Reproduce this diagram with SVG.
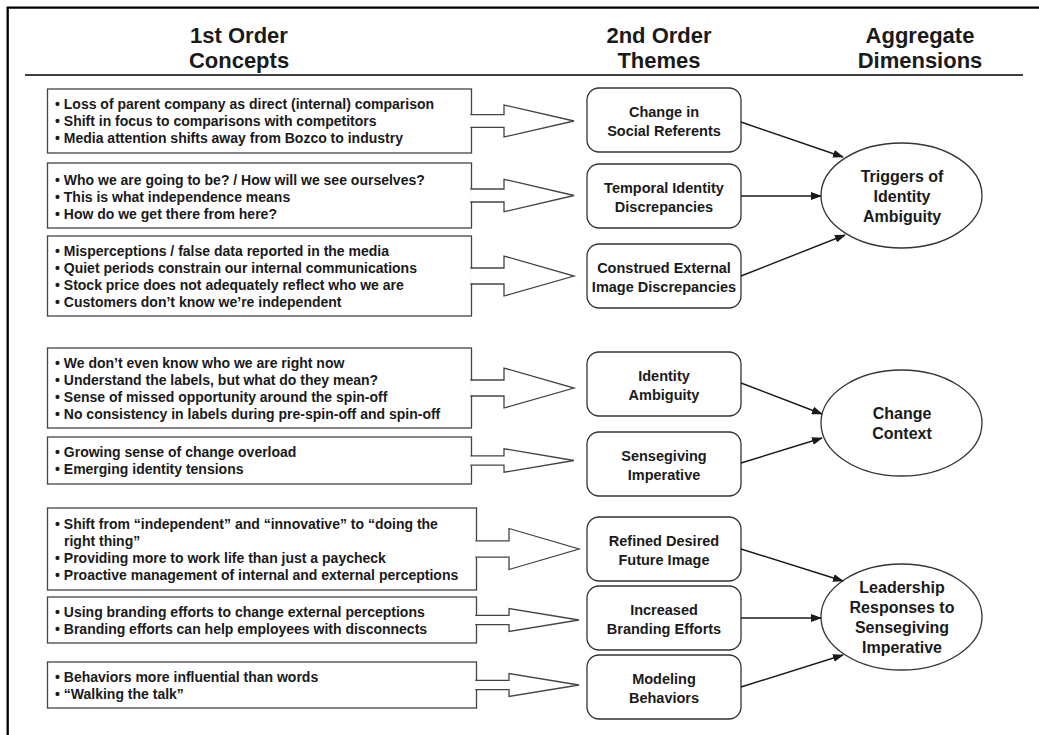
<svg xmlns="http://www.w3.org/2000/svg" width="1039" height="735" viewBox="0 0 1039 735">
<defs>
<style>
text{font-family:"Liberation Sans",Arial,sans-serif;font-weight:bold;fill:#1a1a1a}
.hd{font-size:22px;text-anchor:middle}
.lt{font-size:14px}
.th{font-size:14.5px;text-anchor:middle}
.ag{font-size:16px;text-anchor:middle}
.box{fill:#fff;stroke:#444;stroke-width:1.3}
.blk{fill:#fff;stroke:#444;stroke-width:1.3;stroke-linejoin:miter}
.rr{fill:#fff;stroke:#333;stroke-width:1.3}
.el{fill:#fff;stroke:#333;stroke-width:1.3}
.cn{fill:none;stroke:#1a1a1a;stroke-width:1.4;marker-end:url(#ah)}
</style>
<marker id="ah" markerUnits="userSpaceOnUse" markerWidth="11" markerHeight="8" refX="10" refY="4" orient="auto">
<path d="M0,0 L11,4 L0,8 z" fill="#1a1a1a"/>
</marker>
</defs>
<rect width="1039" height="735" fill="#fff"/>
<g id="frame">
<path d="M7.7,735 V7.7 H1039" fill="none" stroke="#000" stroke-width="2.3"/>
<line x1="25" y1="75" x2="1023" y2="75" stroke="#000" stroke-width="1.6"/>
</g>
<g id="headers">
<text class="hd" x="239" y="43">1st Order</text>
<text class="hd" x="239" y="68">Concepts</text>
<text class="hd" x="659" y="43">2nd Order</text>
<text class="hd" x="659" y="68">Themes</text>
<text class="hd" x="920" y="43">Aggregate</text>
<text class="hd" x="920" y="68">Dimensions</text>
</g>
<g id="concepts1">
<rect class="box" x="47.5" y="89" width="424" height="64"/>
<path class="blk" d="M470.3,114.6 H504 V105 L574,121 L504,137 V127.4 H470.3"/>
<text class="lt" x="55" y="109">• Loss of parent company as direct (internal) comparison</text>
<text class="lt" x="55" y="126">• Shift in focus to comparisons with competitors</text>
<text class="lt" x="55" y="143">• Media attention shifts away from Bozco to industry</text>
</g>
<g id="concepts2">
<rect class="box" x="47.5" y="163" width="424" height="65"/>
<path class="blk" d="M470.3,189 H504 V179.25 L574,195.5 L504,211.75 V202 H470.3"/>
<text class="lt" x="55" y="184.5">• Who we are going to be? / How will we see ourselves?</text>
<text class="lt" x="55" y="201.5">• This is what independence means</text>
<text class="lt" x="55" y="218.5">• How do we get there from here?</text>
</g>
<g id="concepts3">
<rect class="box" x="47.5" y="236" width="424" height="80"/>
<path class="blk" d="M470.3,268 H504 V256 L574,276 L504,296 V284 H470.3"/>
<text class="lt" x="55" y="255.5">• Misperceptions / false data reported in the media</text>
<text class="lt" x="55" y="272.5">• Quiet periods constrain our internal communications</text>
<text class="lt" x="55" y="289.5">• Stock price does not adequately reflect who we are</text>
<text class="lt" x="55" y="306.5">• Customers don’t know we’re independent</text>
</g>
<g id="concepts4">
<rect class="box" x="47.5" y="348" width="424" height="80"/>
<path class="blk" d="M470.3,380 H504 V368 L574,388 L504,408 V396 H470.3"/>
<text class="lt" x="55" y="367.5">• We don’t even know who we are right now</text>
<text class="lt" x="55" y="384.5">• Understand the labels, but what do they mean?</text>
<text class="lt" x="55" y="401.5">• Sense of missed opportunity around the spin-off</text>
<text class="lt" x="55" y="418.5">• No consistency in labels during pre-spin-off and spin-off</text>
</g>
<g id="concepts5">
<rect class="box" x="47.5" y="437" width="424" height="47"/>
<path class="blk" d="M470.3,455.8 H504 V448.75 L574,460.5 L504,472.25 V465.2 H470.3"/>
<text class="lt" x="55" y="457">• Growing sense of change overload</text>
<text class="lt" x="55" y="474">• Emerging identity tensions</text>
</g>
<g id="concepts6">
<rect class="box" x="47.5" y="508" width="429" height="82"/>
<path class="blk" d="M475.3,540.8 H509 V528.5 L579,549 L509,569.5 V557.2 H475.3"/>
<text class="lt" x="55" y="528.5">• Shift from “independent” and “innovative” to “doing the</text>
<text class="lt" x="64" y="545.5">right thing”</text>
<text class="lt" x="55" y="562.5">• Providing more to work life than just a paycheck</text>
<text class="lt" x="55" y="579.5">• Proactive management of internal and external perceptions</text>
</g>
<g id="concepts7">
<rect class="box" x="47.5" y="597" width="429" height="46"/>
<path class="blk" d="M475.3,615.4 H509 V608.5 L579,620 L509,631.5 V624.6 H475.3"/>
<text class="lt" x="55" y="616.5">• Using branding efforts to change external perceptions</text>
<text class="lt" x="55" y="633.5">• Branding efforts can help employees with disconnects</text>
</g>
<g id="concepts8">
<rect class="box" x="47.5" y="662" width="429" height="46"/>
<path class="blk" d="M475.3,680.4 H509 V673.5 L579,685 L509,696.5 V689.6 H475.3"/>
<text class="lt" x="55" y="681.5">• Behaviors more influential than words</text>
<text class="lt" x="55" y="698.5">• “Walking the talk”</text>
</g>
<g id="theme1">
<rect class="rr" x="587" y="88" width="154" height="64" rx="12"/>
<text class="th" x="664" y="117">Change in</text>
<text class="th" x="664" y="135.5">Social Referents</text>
</g>
<g id="theme2">
<rect class="rr" x="587" y="164" width="154" height="64" rx="12"/>
<text class="th" x="664" y="193">Temporal Identity</text>
<text class="th" x="664" y="211.5">Discrepancies</text>
</g>
<g id="theme3">
<rect class="rr" x="587" y="244" width="154" height="64" rx="12"/>
<text class="th" x="664" y="273">Construed External</text>
<text class="th" x="664" y="291.5">Image Discrepancies</text>
</g>
<g id="theme4">
<rect class="rr" x="587" y="352" width="154" height="64" rx="12"/>
<text class="th" x="664" y="381">Identity</text>
<text class="th" x="664" y="399.5">Ambiguity</text>
</g>
<g id="theme5">
<rect class="rr" x="587" y="432" width="154" height="64" rx="12"/>
<text class="th" x="664" y="461">Sensegiving</text>
<text class="th" x="664" y="479.5">Imperative</text>
</g>
<g id="theme6">
<rect class="rr" x="587" y="517" width="154" height="64" rx="12"/>
<text class="th" x="664" y="546">Refined Desired</text>
<text class="th" x="664" y="564.5">Future Image</text>
</g>
<g id="theme7">
<rect class="rr" x="587" y="586" width="154" height="64" rx="12"/>
<text class="th" x="664" y="615">Increased</text>
<text class="th" x="664" y="633.5">Branding Efforts</text>
</g>
<g id="theme8">
<rect class="rr" x="587" y="655" width="154" height="64" rx="12"/>
<text class="th" x="664" y="684">Modeling</text>
<text class="th" x="664" y="702.5">Behaviors</text>
</g>
<g id="dim1">
<ellipse class="el" cx="901.5" cy="195.5" rx="80.5" ry="52.5"/>
<text class="ag" x="902" y="181.5">Triggers of</text>
<text class="ag" x="902" y="201.5">Identity</text>
<text class="ag" x="902" y="221.5">Ambiguity</text>
</g>
<g id="dim2">
<ellipse class="el" cx="901.5" cy="423" rx="80.5" ry="53"/>
<text class="ag" x="902" y="419">Change</text>
<text class="ag" x="902" y="439">Context</text>
</g>
<g id="dim3">
<ellipse class="el" cx="901.5" cy="617" rx="80.5" ry="53"/>
<text class="ag" x="902" y="593">Leadership</text>
<text class="ag" x="902" y="613">Responses to</text>
<text class="ag" x="902" y="633">Sensegiving</text>
<text class="ag" x="902" y="653">Imperative</text>
</g>
<g id="connectors">
<line class="cn" x1="741" y1="122" x2="843" y2="157"/>
<line class="cn" x1="741" y1="196" x2="821" y2="196"/>
<line class="cn" x1="741" y1="276" x2="845" y2="235"/>
<line class="cn" x1="741" y1="383" x2="822" y2="414"/>
<line class="cn" x1="741" y1="463" x2="822" y2="438"/>
<line class="cn" x1="741" y1="549" x2="843" y2="581"/>
<line class="cn" x1="741" y1="618" x2="821" y2="618"/>
<line class="cn" x1="741" y1="687" x2="843" y2="655"/>
</g>
</svg>
